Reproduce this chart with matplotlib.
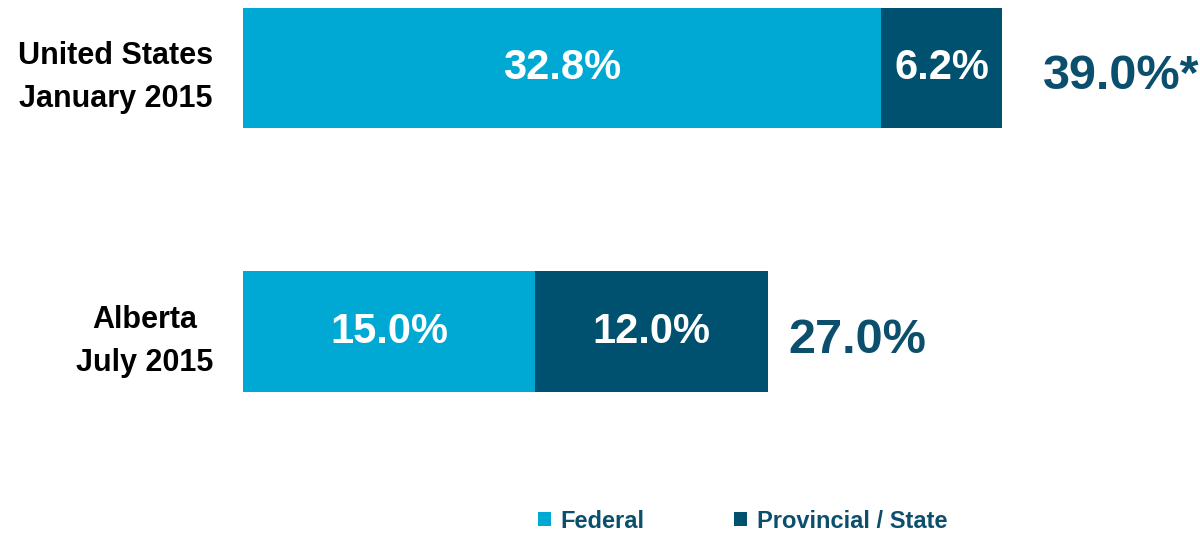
import matplotlib
matplotlib.use("Agg")
from matplotlib import pyplot as plt
import numpy as np

# data
categories = ['United States\nJanuary 2015', 'Alberta\nJuly 2015']
federal = [32.8, 15.0]
provincial = [6.2, 12.0]
totals = [39.0, 27.0]
total_labels = ['39.0%*', '27.0%']
series_names = ['Federal', 'Provincial / State']

c_fed = '#00A9D4'
c_prov = '#00506F'
c_text = '#0B4F6C'
fam = ['Liberation Sans', 'DejaVu Sans']

fig = plt.figure(figsize=(12, 5.34), dpi=100)
ax = fig.add_axes([243 / 1200, 0, 1 - 243 / 1200, 1])

y = np.arange(len(categories))
h = 0.455
ax.barh(y, federal, height=h, color=c_fed, label=series_names[0])
ax.barh(y, provincial, left=federal, height=h, color=c_prov, label=series_names[1])

for i in range(len(y)):
    ax.text(federal[i] / 2, y[i], '%.1f%%' % federal[i], ha='center', va='center',
            color='white', fontsize=30, fontweight='bold', family=fam)
    ax.text(federal[i] + provincial[i] / 2, y[i], '%.1f%%' % provincial[i], ha='center',
            va='center', color='white', fontsize=30, fontweight='bold', family=fam)

offsets = [2.1, 1.0]
for i in range(len(y)):
    ax.text(totals[i] + offsets[i], y[i] + 0.035, total_labels[i], ha='left', va='center',
            color=c_text, fontsize=35, fontweight='bold', family=fam)

ax.set_xlim(0, (1200 - 243) / 19.46)
ax.set_ylim(1.767, -0.256)
ax.set_yticks(y)
ax.set_yticklabels(categories, fontsize=22, fontweight='bold', family=fam,
                   multialignment='center', linespacing=1.55)
ax.tick_params(axis='y', length=0, pad=21.5)
ax.set_xticks([])
for s in ax.spines.values():
    s.set_visible(False)

# legend
leg = fig.legend(loc='center', bbox_to_anchor=(0.619, 0.024), ncol=2, frameon=False,
                 handlelength=0.55, handleheight=0.55, handletextpad=0.4, columnspacing=3.8,
                 prop={'family': fam, 'weight': 'bold', 'size': 17})
for t in leg.get_texts():
    t.set_color(c_text)

fig.savefig('out.png', dpi=100)
